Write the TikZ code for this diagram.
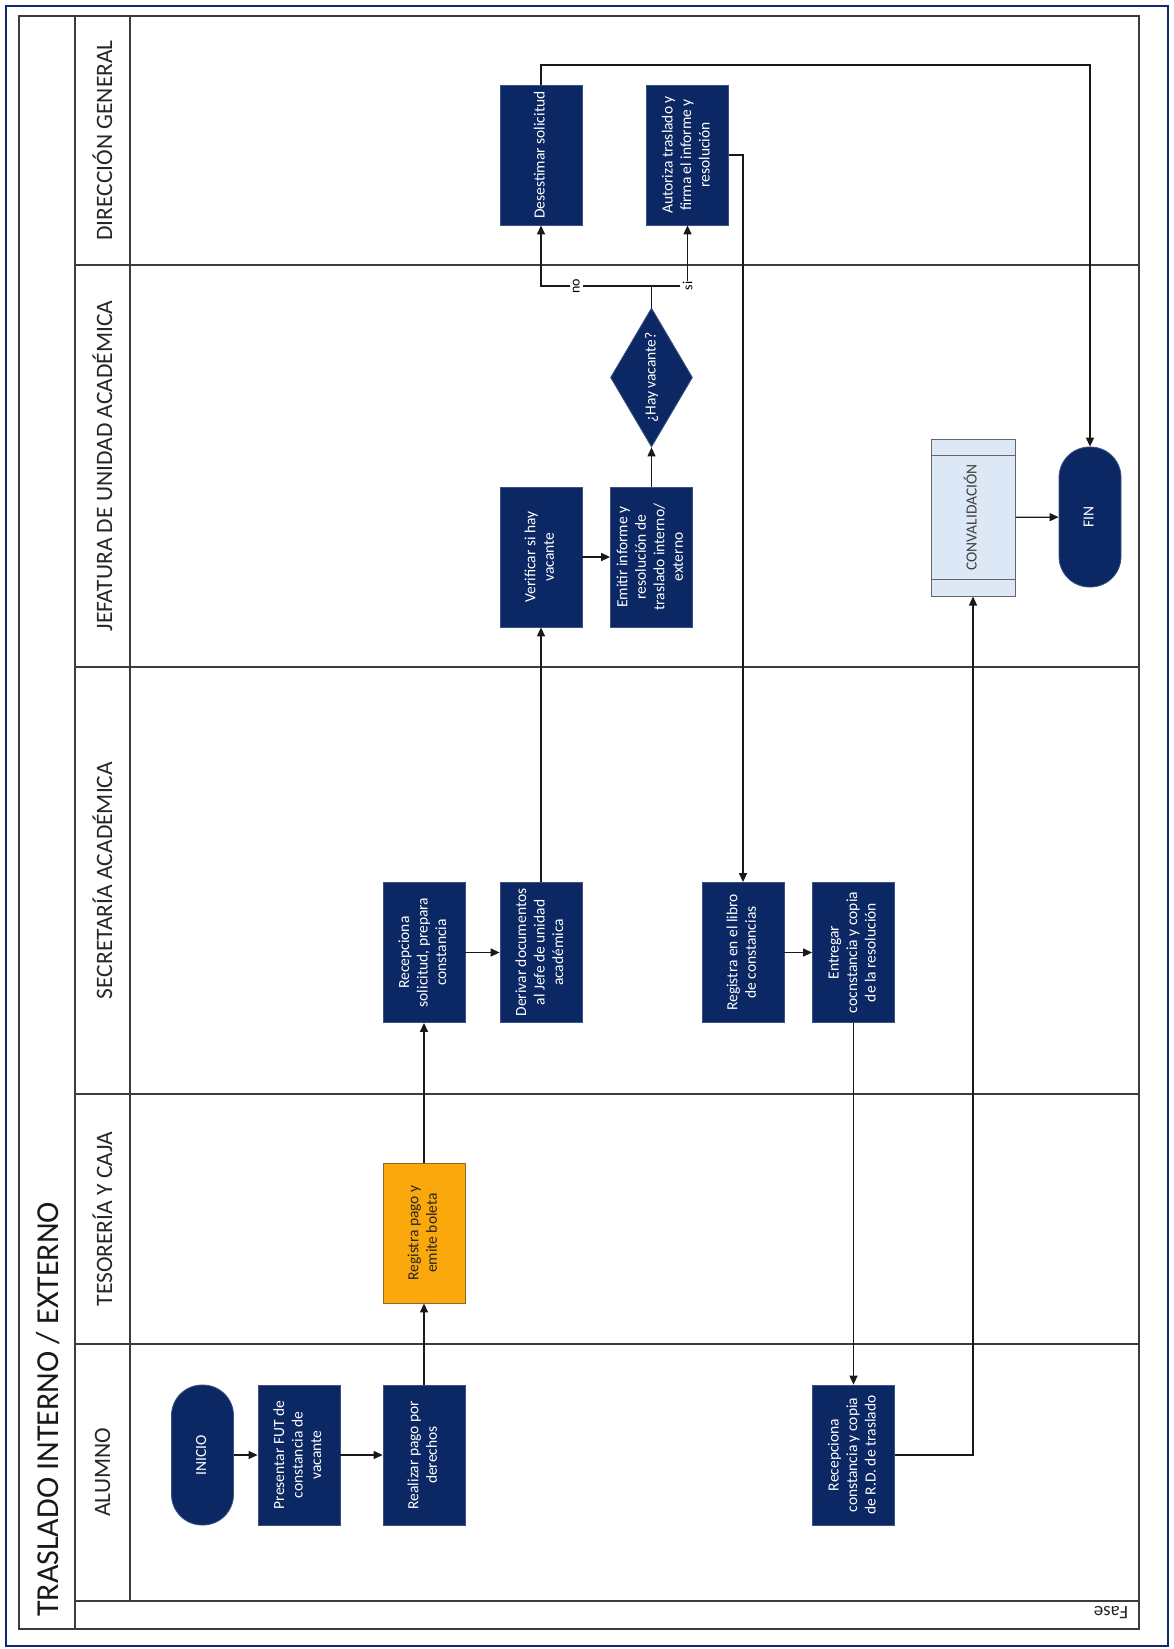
\documentclass[tikz,border=0pt]{standalone}
\usepackage{fontspec}
\setmainfont{Carlito}
\usepackage{graphicx}
\usetikzlibrary{arrows.meta,shapes.geometric}
\definecolor{navy}{RGB}{12,40,100}
\definecolor{navyedge}{RGB}{60,80,130}
\definecolor{amber}{RGB}{250,168,12}
\definecolor{amberedge}{RGB}{150,100,40}
\definecolor{lightbl}{RGB}{220,232,245}
\definecolor{lanegray}{RGB}{60,60,60}
\definecolor{border}{RGB}{20,40,110}
\newcommand{\rt}[1]{\rotatebox{90}{\begin{tabular}{@{}c@{}}#1\end{tabular}}}
\begin{document}
\begin{tikzpicture}[x=1pt,y=-1pt,
  boxfont/.style={font=\fontsize{15.5}{18.5}\selectfont},
  proc/.style={draw=navyedge, line width=0.8pt, fill=navy, text=white, minimum width=82pt, minimum height=140pt, inner sep=0pt, boxfont},
  payproc/.style={proc, draw=amberedge, fill=amber, text=black!85},
  term/.style={draw=navyedge, line width=0.8pt, fill=navy, text=white, minimum width=62pt, minimum height=140pt, inner sep=0pt, rounded corners=30.5pt, boxfont},
  predef/.style={draw=gray!80!black, line width=1pt, fill=lightbl, text=black!75, minimum width=84pt, minimum height=157pt, inner sep=0pt, boxfont},
  decision/.style={diamond, draw=navyedge, line width=0.8pt, fill=navy, minimum width=82pt, minimum height=139pt, inner sep=0pt, shape aspect=0.59},
  conn/.style={draw=black!90, line width=1.3pt, -{Triangle[length=9pt,width=8pt]}},
  plain/.style={draw=black!90, line width=1.3pt},
  lanelbl/.style={rotate=90, font=\fontsize{23.5}{26}\selectfont, text=black!85, inner sep=0pt},
  lanesep/.style={draw=lanegray, line width=2pt},
  branchlbl/.style={fill=white, inner xsep=1pt, inner ysep=3pt, font=\fontsize{14}{15}\selectfont, rotate=90}
]
\useasboundingbox (0,0) rectangle (1173,1649);
\fill[white] (0,0) rectangle (1173,1649);
% outer border
\draw[border, line width=1.6pt] (6,6) rectangle (1168,1646);
% frame
\draw[lanesep] (19,16) rectangle (1139,1629);
\draw[lanesep] (75,16) -- (75,1629);
\draw[lanesep] (130,16) -- (130,1601);
\foreach \yy in {265,667,1094,1344,1601} \draw[lanesep] (75,\yy) -- (1139,\yy);

% title & lane labels
\node[rotate=90, anchor=west, inner sep=0pt, font=\fontsize{32}{34}\selectfont, text=black!90] (title) at (48,1617) {TRASLADO INTERNO / EXTERNO};
\node[lanelbl] (l1) at (102.5,140.5) {DIRECCIÓN GENERAL};
\node[lanelbl] (l2) at (102.5,466) {JEFATURA DE UNIDAD ACADÉMICA};
\node[lanelbl] (l3) at (102.5,880.5) {SECRETARÍA ACADÉMICA};
\node[lanelbl] (l4) at (102.5,1219) {TESORERÍA Y CAJA};
\node[lanelbl] (l5) at (102.5,1472.5) {ALUMNO};
\node[rotate=180, inner sep=0pt, font=\fontsize{19}{20}\selectfont, text=black!85] (fase) at (1111,1613) {Fase};

% nodes
\node[proc] (desest) at (541,155) {\rt{Desestimar solicitud}};
\node[proc] (autoriza) at (687.5,155) {\rt{Autoriza traslado y\\firma el informe y\\resolución}};
\node[decision] (dec) at (651.5,377.5) {};
\node[rotate=90, text=white, boxfont, inner sep=0pt] (dectxt) at (dec.center) {¿Hay vacante?};
\node[proc] (verif) at (541,557) {\rt{Verificar si hay\\vacante}};
\node[proc] (emitir) at (651.5,557) {\rt{Emitir informe y\\resolución de\\traslado interno/\\externo}};
\node[predef] (conval) at (973,517.5) {\rt{CONVALIDACIÓN}};
\draw[gray!80!black, line width=1pt] ([yshift=-17pt]conval.north west) -- ([yshift=-17pt]conval.north east);
\draw[gray!80!black, line width=1pt] ([yshift=17pt]conval.south west) -- ([yshift=17pt]conval.south east);
\node[term] (fin) at (1090,517) {\rt{FIN}};

\node[proc] (recsol) at (424,952.5) {\rt{Recepciona\\solicitud, prepara\\constancia}};
\node[proc] (derivar) at (541,952.5) {\rt{Derivar documentos\\al Jefe de unidad\\académica}};
\node[proc] (registra) at (743,952.5) {\rt{Registra en el libro\\de constancias}};
\node[proc] (entregar) at (853.5,952.5) {\rt{Entregar\\cocnstancia y copia\\de la resolución}};

\node[payproc] (pago) at (424,1233) {\rt{Registra pago y\\emite boleta}};

\node[term] (inicio) at (202.5,1455) {\rt{INICIO}};
\node[proc] (presentar) at (299,1455) {\rt{Presentar FUT de\\constancia de\\vacante}};
\node[proc] (realizar) at (424,1455) {\rt{Realizar pago por\\derechos}};
\node[proc] (reccons) at (853.5,1455) {\rt{Recepciona\\constancia y copia\\de R.D. de traslado}};

% connectors
\draw[conn] (inicio) -- (presentar);
\draw[conn] (presentar) -- (realizar);
\draw[conn] (realizar) -- (pago);
\draw[conn] (pago) -- (recsol);
\draw[conn] (recsol) -- (derivar);
\draw[conn] (derivar) -- (verif);
\draw[conn] (verif) -- (emitir);
\draw[conn] (emitir) -- (dec);
\coordinate (j) at (651.5,286);
\draw[plain] (dec.north) -- (j);
\draw[conn] (j) -| node[branchlbl, pos=0.34] {no} (desest.south);
\draw[conn] (j) -| node[branchlbl, pos=0.5] {si} (autoriza.south);
\coordinate (c1) at (1090,65);
\draw[conn] (desest.north) |- (c1) -- (fin.north);
\draw[conn] (autoriza.east) -| (registra.north);
\draw[conn] (registra) -- (entregar);
\draw[conn] (entregar) -- (reccons);
\draw[conn] (reccons.east) -| (conval.south);
\draw[conn] (conval) -- (fin);
\end{tikzpicture}
\end{document}
